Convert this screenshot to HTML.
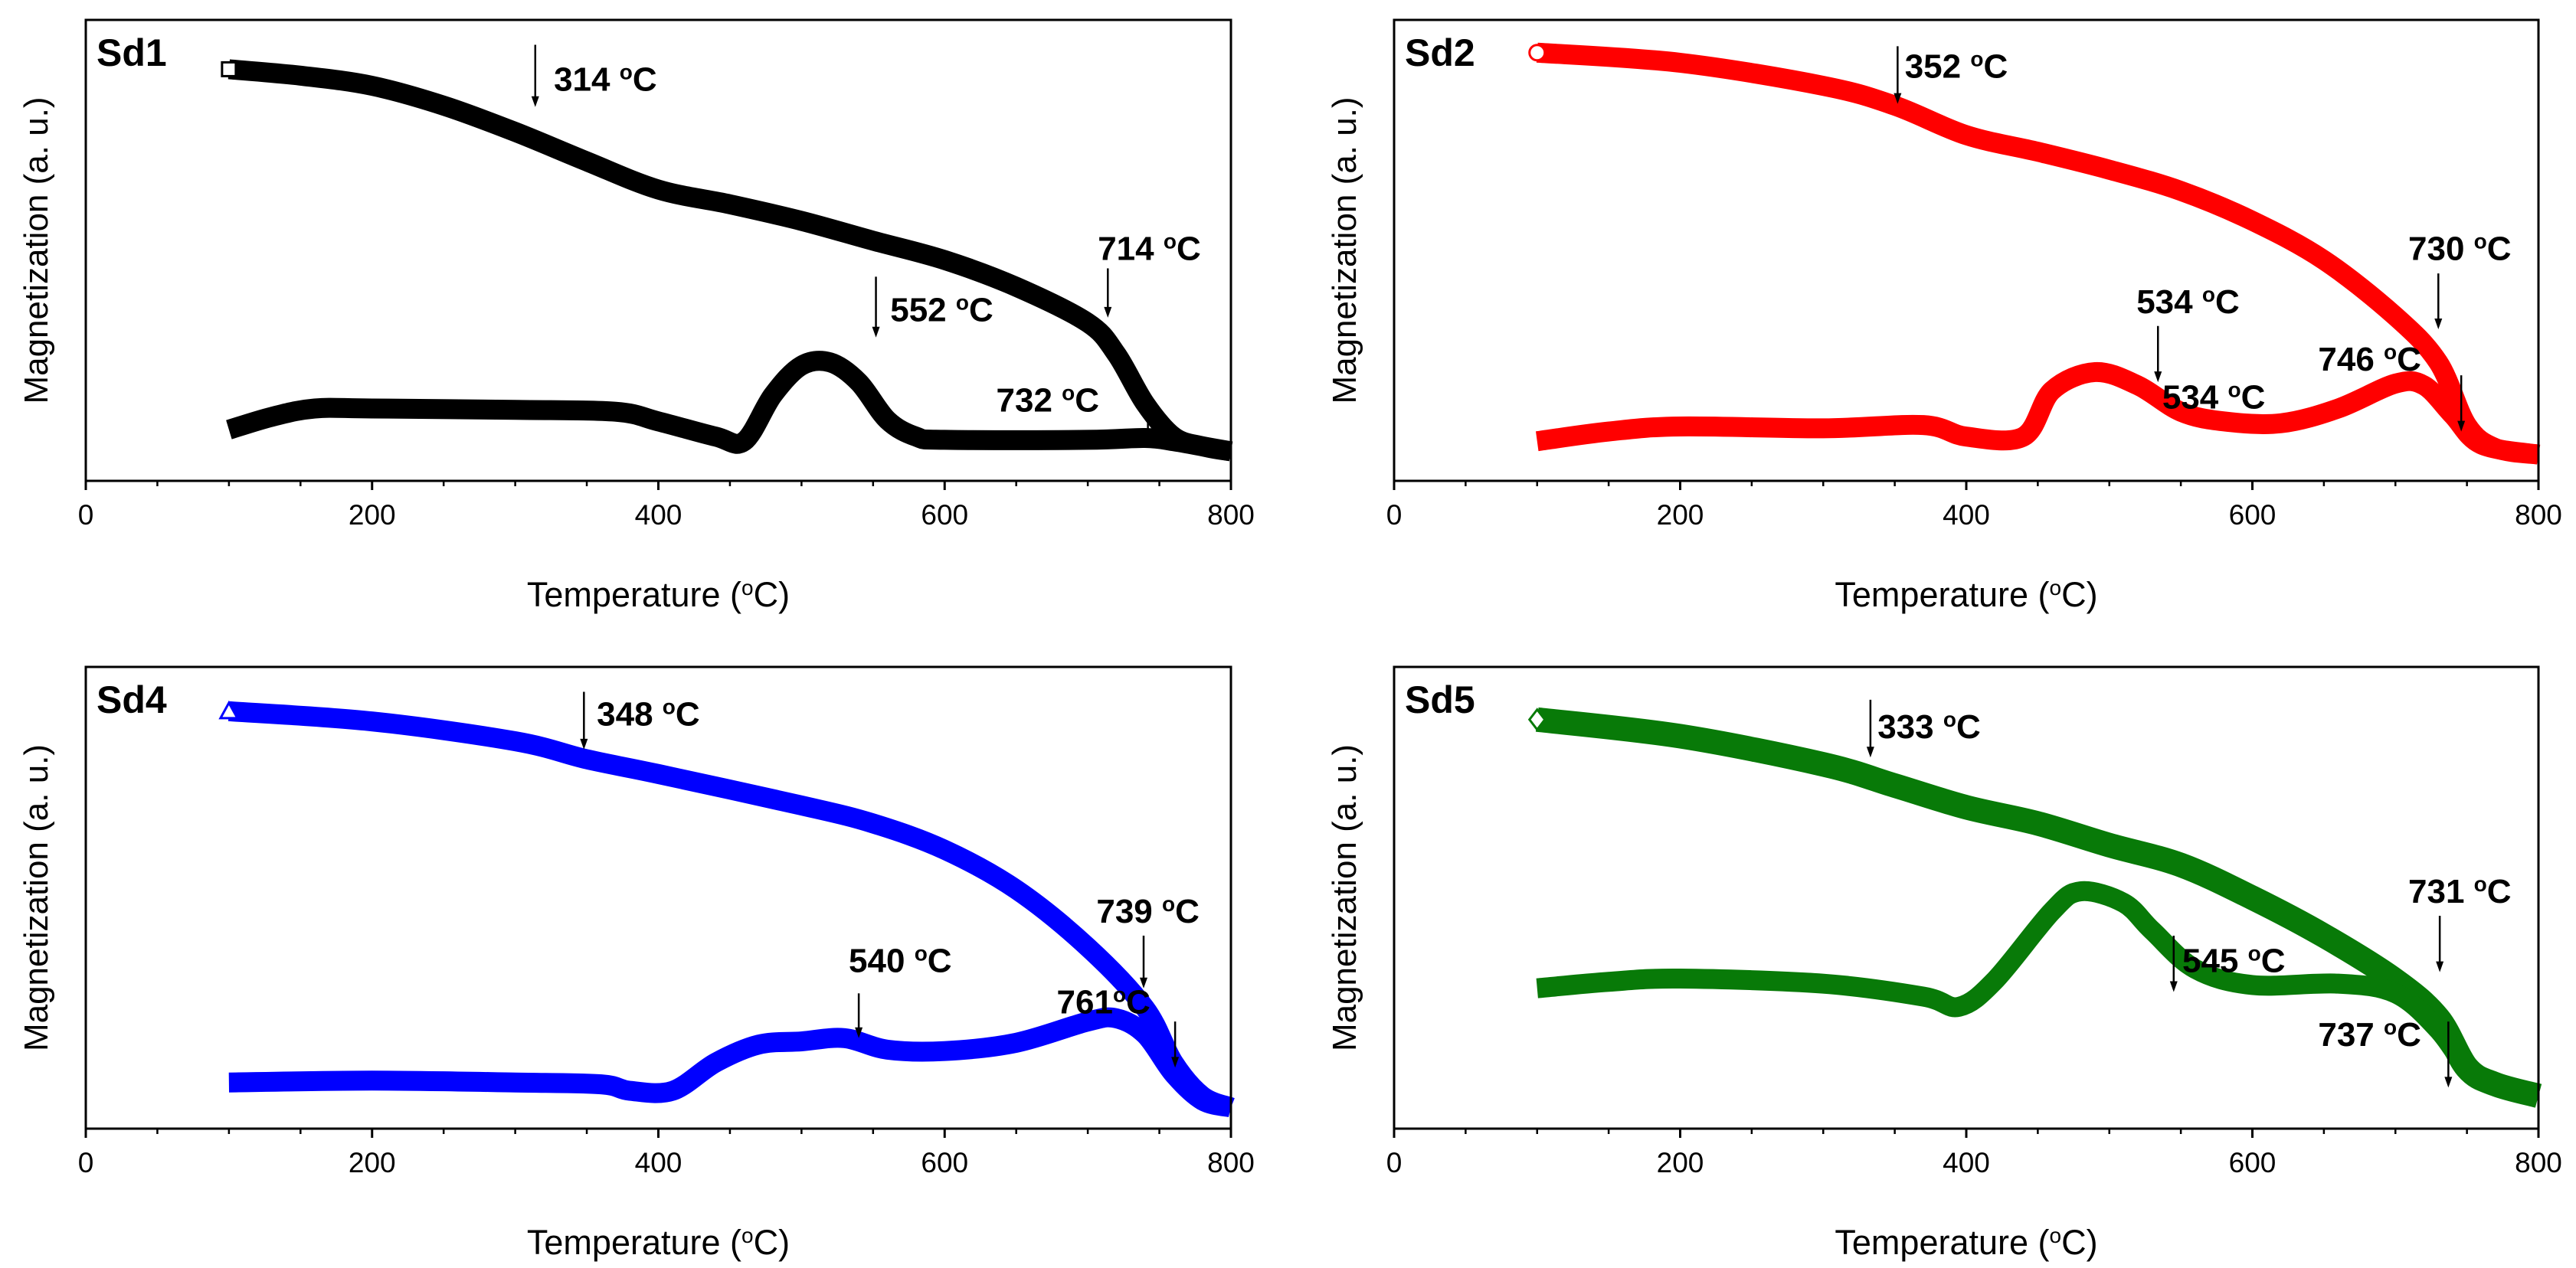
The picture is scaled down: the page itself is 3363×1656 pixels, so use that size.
<!DOCTYPE html>
<html><head><meta charset="utf-8">
<style>
html,body{margin:0;padding:0;background:#fff;}
svg{display:block;}
text{font-family:"Liberation Sans",Arial,sans-serif;}
</style></head>
<body>
<svg id="chart" width="3363" height="1656" viewBox="0 0 3363 1656" xmlns="http://www.w3.org/2000/svg"></svg>
<script>
const xTicks=[0,200,400,600,800];
const minorTicks=[50,100,150,250,300,350,450,500,550,650,700,750];
const panelNames=["Sd1","Sd2","Sd4","Sd5"];
const panelColors=["#000000","#ff0000","#0000ff","#087a08"];
const markers=["square","circle","triangle","diamond"];
const sd1UpT=[100,150,200,250,300,350,400,450,500,550,600,650,700,720,740,760,780,800];
const sd1UpM=[.893,.879,.857,.814,.757,.693,.632,.6,.564,.521,.479,.421,.343,.275,.168,.096,.075,.064];
const sd1LoT=[100,130,160,200,300,370,400,440,460,480,500,520,540,560,580,600,700,740,760,780,800];
const sd1LoM=[.111,.139,.157,.157,.154,.15,.129,.096,.086,.186,.25,.257,.214,.132,.096,.089,.089,.093,.086,.075,.064];
const sd2UpT=[100,200,300,350,400,450,500,550,600,650,700,730,750,770,800];
const sd2UpM=[.929,.907,.857,.814,.75,.714,.675,.629,.564,.479,.357,.257,.121,.071,.057];
const sd2LoT=[100,150,200,300,370,400,440,460,490,520,550,580,620,660,700,720,740,760,800];
const sd2LoM=[.086,.107,.118,.114,.121,.096,.096,.196,.236,.207,.15,.129,.125,.157,.211,.207,.143,.079,.057];
const sd4UpT=[100,200,300,350,400,500,550,600,650,700,740,760,780,800];
const sd4UpM=[.904,.882,.839,.8,.768,.7,.661,.604,.518,.393,.261,.143,.071,.046];
const sd4LoT=[100,200,300,360,380,410,440,470,500,530,560,600,650,700,720,740,760,780,800];
const sd4LoM=[.1,.104,.1,.096,.082,.082,.143,.182,.189,.196,.171,.168,.186,.232,.239,.204,.118,.061,.046];
const sd5UpT=[100,200,300,350,400,450,500,550,600,650,700,730,750,770,800];
const sd5UpM=[.886,.85,.789,.743,.696,.661,.614,.571,.5,.418,.321,.239,.132,.096,.071];
const sd5LoT=[100,150,200,300,370,395,420,460,480,510,530,560,600,660,700,730,750];
const sd5LoM=[.304,.318,.325,.314,.286,.264,.321,.471,.514,.489,.429,.346,.311,.314,.293,.214,.125];
const annSd1=[["314",314,.946,.811,327,.846,"start"],["714",714,.461,.354,743,.479,"middle"],["552",552,.443,.311,562,.346,"start"],["732",742,.132,.079,636,.15,"start"]];
const annSd2=[["352",352,.943,.818,357,.875,"start"],["730",730,.45,.329,745,.479,"middle"],["534",534,.336,.214,555,.364,"middle"],["534",null,0,0,537,.157,"start"],["746",746,.229,.107,646,.239,"start"]];
const annSd4=[["348",348,.946,.821,357,.873,"start"],["739",739,.418,.304,742,.446,"middle"],["540",540,.293,.196,569,.339,"middle"],["761",761,.232,.132,711,.25,"middle"]];
const annSd5=[["333",333,.929,.804,338,.846,"start"],["731",731,.461,.339,745,.489,"middle"],["545",545,.418,.296,551,.339,"start"],["737",737,.232,.089,682,.179,"middle"]];

const panels=[
 {L:112,R:1607,T:26,B:628,up:[sd1UpT,sd1UpM],lo:[sd1LoT,sd1LoM],ann:annSd1,w:26,wl:26},
 {L:1820,R:3314,T:26,B:628,up:[sd2UpT,sd2UpM],lo:[sd2LoT,sd2LoM],ann:annSd2,w:26,wl:26},
 {L:112,R:1607,T:871,B:1474,up:[sd4UpT,sd4UpM],lo:[sd4LoT,sd4LoM],ann:annSd4,w:26,wl:26},
 {L:1820,R:3314,T:871,B:1474,up:[sd5UpT,sd5UpM],lo:[sd5LoT,sd5LoM],ann:annSd5,w:32,wl:26}
];
const NS="http://www.w3.org/2000/svg";
const svg=document.getElementById('chart');
function mk(tag,attrs,parent){const e=document.createElementNS(NS,tag);for(const k in attrs)e.setAttribute(k,attrs[k]);(parent||svg).appendChild(e);return e;}
function smoothPath(pts){
 let d="M"+pts[0][0]+","+pts[0][1];
 for(let i=0;i<pts.length-1;i++){
  const p0=pts[Math.max(0,i-1)],p1=pts[i],p2=pts[i+1],p3=pts[Math.min(pts.length-1,i+2)];
  const c1=[p1[0]+(p2[0]-p0[0])/6,p1[1]+(p2[1]-p0[1])/6];
  const c2=[p2[0]-(p3[0]-p1[0])/6,p2[1]-(p3[1]-p1[1])/6];
  d+=" C"+c1[0]+","+c1[1]+" "+c2[0]+","+c2[1]+" "+p2[0]+","+p2[1];
 }
 return d;
}
panels.forEach((p,pi)=>{
 const g=mk('g',{});
 
 
 const xs=t=>p.L+(t/800)*(p.R-p.L);
 const ys=v=>p.B-v*(p.B-p.T);
 const col=panelColors[pi];
 [[p.up,'heating-curve',p.w],[p.lo,'cooling-curve',p.wl]].forEach(([c,nm,w])=>{
  const pts=c[0].map((t,i)=>[xs(t),ys(c[1][i])]);
  const path=mk('path',{d:smoothPath(pts),fill:'none',stroke:col,'stroke-width':w,'stroke-linejoin':'round'},g);
  
  
 });
 const mx=xs(p.up[0][0]),my=ys(p.up[1][0]);
 let m;
 if(markers[pi]==='square')m=mk('rect',{x:mx-9,y:my-9,width:18,height:18,fill:'#fff',stroke:col,'stroke-width':3},g);
 else if(markers[pi]==='circle')m=mk('circle',{cx:mx,cy:my,r:10,fill:'#fff',stroke:col,'stroke-width':3},g);
 else if(markers[pi]==='triangle')m=mk('polygon',{points:`${mx},${my-11} ${mx-11},${my+9} ${mx+11},${my+9}`,fill:'#fff',stroke:col,'stroke-width':3},g);
 else m=mk('polygon',{points:`${mx},${my-13} ${mx-10},${my} ${mx},${my+13} ${mx+10},${my}`,fill:'#fff',stroke:col,'stroke-width':3},g);
 
 
 const fr=mk('rect',{x:p.L,y:p.T,width:p.R-p.L,height:p.B-p.T,fill:'none',stroke:'#000','stroke-width':3},g);
 
 
 xTicks.forEach(t=>{
  const tk=mk('line',{x1:xs(t),x2:xs(t),y1:p.B,y2:p.B+12,stroke:'#000','stroke-width':3},g);
  
  
  const tl=mk('text',{x:xs(t),y:p.B+57,'font-size':37,'text-anchor':'middle',fill:'#000'},g);
  tl.textContent=t;
  
  
 });
 minorTicks.forEach(t=>{
  const tk=mk('line',{x1:xs(t),x2:xs(t),y1:p.B,y2:p.B+7,stroke:'#000','stroke-width':2.5},g);
  
  
 });
 const xt=mk('text',{x:(p.L+p.R)/2,y:p.B+164,'font-size':45,'text-anchor':'middle',fill:'#000'},g);
 xt.innerHTML='Temperature (<tspan baseline-shift="super" font-size="28">o</tspan>C)';
 
 
 const cy=(p.T+p.B)/2, cx=p.L-50;
 const yt=mk('text',{x:cx,y:cy,'font-size':44,'text-anchor':'middle',fill:'#000',transform:`rotate(-90 ${cx} ${cy})`},g);
 yt.textContent='Magnetization (a. u.)';
 
 
 const sl=mk('text',{x:p.L+14,y:p.T+60,'font-size':50,'font-weight':'bold',fill:'#000'},g);
 sl.textContent=panelNames[pi];
 
 
 p.ann.forEach(a=>{
  if(a[1]!==null){
   const ax=xs(a[1]),y1=ys(a[2]),y2=ys(a[3]);
   const al=mk('line',{x1:ax,x2:ax,y1:y1,y2:y2-10,stroke:'#000','stroke-width':2.5},g);
   
   
   const ah=mk('polygon',{points:`${ax-5},${y2-14} ${ax+5},${y2-14} ${ax},${y2}`,fill:'#000'},g);
   
   
  }
  const tx=mk('text',{x:xs(a[4]),y:ys(a[5]),'font-size':44,'font-weight':'bold','text-anchor':a[6],fill:'#000'},g);
  tx.innerHTML=a[0]+(a[0]==='761'?'':' ')+'<tspan baseline-shift="super" font-size="28">o</tspan>C';
  
  
 });
});
</script>
</body></html>
